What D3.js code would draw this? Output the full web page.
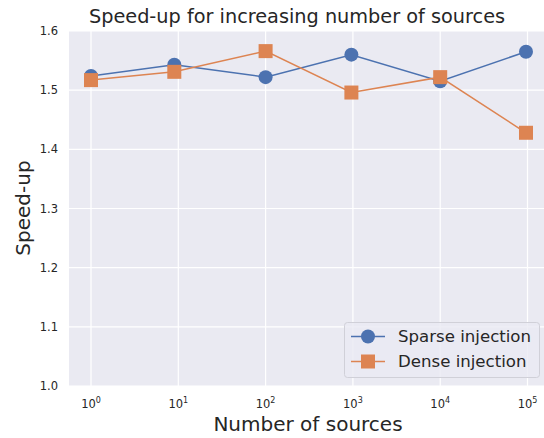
<!DOCTYPE html>
<html>
<head>
<meta charset="utf-8">
<script src="https://cdn.jsdelivr.net/npm/d3@7"></script>
<style>
  body { margin: 0; background: #fff; }
  text { font-family: "DejaVu Sans", sans-serif; fill: #262626; }
</style>
</head>
<body>
<div id="chart"></div>
<script>
// data
var sources = [1, 9, 100, 961, 10000, 96100];
var sparse = [1.524, 1.543, 1.522, 1.560, 1.515, 1.565];
var dense = [1.517, 1.531, 1.566, 1.496, 1.522, 1.428];
var yTicks = [1.0, 1.1, 1.2, 1.3, 1.4, 1.5, 1.6];
var xTicks = [1, 10, 100, 1000, 10000, 100000];
var seriesNames = ["Sparse injection", "Dense injection"];

var drawChart = () => {
  var width = 544, height = 438;
  var left = 69, right = 549, top = 31, bottom = 386;
  var blue = "#4C72B0", orange = "#DD8452";

  var svg = d3.select("#chart").append("svg")
    .attr("width", width).attr("height", height);

  var x = d3.scaleLog().domain([1, 100000]).range([91, 527.5]);
  var y = d3.scaleLinear().domain([1.0, 1.6]).range([bottom, top]);

  svg.append("rect")
    .attr("x", left).attr("y", top)
    .attr("width", right - left).attr("height", bottom - top)
    .attr("fill", "#EAEAF2");

  // grid
  svg.append("g").selectAll("line").data(xTicks).enter().append("line")
    .attr("x1", d => x(d)).attr("x2", d => x(d))
    .attr("y1", top).attr("y2", bottom)
    .attr("stroke", "#fff").attr("stroke-width", 1.2);
  svg.append("g").selectAll("line").data(yTicks).enter().append("line")
    .attr("x1", left).attr("x2", right)
    .attr("y1", d => y(d)).attr("y2", d => y(d))
    .attr("stroke", "#fff").attr("stroke-width", 1.2);

  // tick labels
  svg.append("g").selectAll("text").data(yTicks).enter().append("text")
    .attr("x", 58).attr("y", d => y(d)).attr("dy", "0.35em")
    .attr("text-anchor", "end").attr("font-size", 11.5)
    .text(d => d.toFixed(1));

  var xl = svg.append("g").selectAll("text").data(xTicks).enter().append("text")
    .attr("x", d => x(d)).attr("y", 408)
    .attr("text-anchor", "middle").attr("font-size", 11.5);
  xl.append("tspan").text("10");
  xl.append("tspan").attr("dy", -5).attr("font-size", 8)
    .text(d => Math.round(Math.log10(d)));

  // axis labels + title
  svg.append("text").attr("x", 308).attr("y", 431)
    .attr("text-anchor", "middle").attr("font-size", 20)
    .text("Number of sources");
  svg.append("text")
    .attr("transform", "translate(30,208) rotate(-90)")
    .attr("text-anchor", "middle").attr("font-size", 20)
    .text("Speed-up");
  svg.append("text").attr("x", 297).attr("y", 23)
    .attr("text-anchor", "middle").attr("font-size", 19.3)
    .text("Speed-up for increasing number of sources");

  var line = d3.line().x(d => x(d[0])).y(d => y(d[1]));
  var sparsePts = d3.zip(sources, sparse);
  var densePts = d3.zip(sources, dense);

  svg.append("path").datum(sparsePts).attr("d", line)
    .attr("fill", "none").attr("stroke", blue).attr("stroke-width", 1.5);
  svg.selectAll(".sp").data(sparsePts).enter().append("circle")
    .attr("cx", d => x(d[0])).attr("cy", d => y(d[1])).attr("r", 7)
    .attr("fill", blue);

  svg.append("path").datum(densePts).attr("d", line)
    .attr("fill", "none").attr("stroke", orange).attr("stroke-width", 1.5);
  svg.selectAll(".dp").data(densePts).enter().append("rect")
    .attr("x", d => x(d[0]) - 7).attr("y", d => y(d[1]) - 7)
    .attr("width", 14).attr("height", 14)
    .attr("fill", orange);

  // legend
  var lg = svg.append("g");
  lg.append("rect").attr("x", 344.5).attr("y", 322.5)
    .attr("width", 195).attr("height", 55).attr("rx", 3)
    .attr("fill", "#EAEAF2").attr("fill-opacity", 0.8)
    .attr("stroke", "#d0d0d8");
  seriesNames.forEach(function(name, i) {
    var cy = 336.5 + i * 25;
    var c = i == 0 ? blue : orange;
    lg.append("line").attr("x1", 351).attr("x2", 385)
      .attr("y1", cy).attr("y2", cy)
      .attr("stroke", c).attr("stroke-width", 1.5);
    if (i == 0) {
      lg.append("circle").attr("cx", 368).attr("cy", cy).attr("r", 7).attr("fill", c);
    } else {
      lg.append("rect").attr("x", 361).attr("y", cy - 7)
        .attr("width", 14).attr("height", 14).attr("fill", c);
    }
    lg.append("text").attr("x", 398).attr("y", cy).attr("dy", "0.35em")
      .attr("font-size", 16.6).text(name);
  });
};
drawChart();
</script>
</body>
</html>
